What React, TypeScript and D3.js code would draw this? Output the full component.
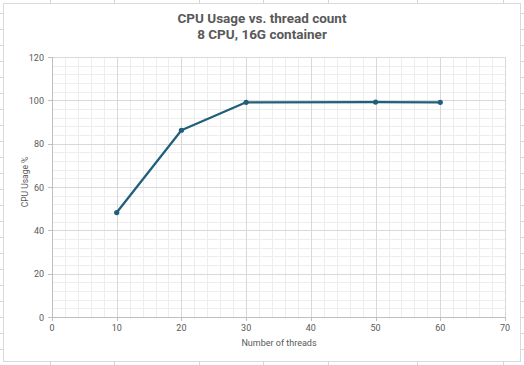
import React from "react";
import * as d3 from "d3";

const threads = [10, 20, 30, 50, 60];
const cpuUsage = [48.2, 86.2, 99.1, 99.2, 99.1];
const xTicks = [0, 10, 20, 30, 40, 50, 60, 70];
const yTicks = [0, 20, 40, 60, 80, 100, 120];
const titleLines = ["CPU Usage vs. thread count", "8 CPU, 16G container"];
const xTitle = "Number of threads";
const yTitle = "CPU Usage %";

const W = 524;
const H = 365;

export default function App() {
  const x = d3.scaleLinear().domain([0, 70]).range([52, 505]);
  const y = d3.scaleLinear().domain([0, 120]).range([317, 57]);
  const xMinor = d3.range(0, 70.001, 2);
  const yMinor = d3.range(0, 120.001, 4);
  const line = d3
    .line<number>()
    .x((_, i) => x(threads[i]))
    .y((d) => y(d));

  const sheetV = [50, 114, 199, 263, 328, 417, 503];
  const sheetH = d3.range(13, 365, 16);
  const font = "Roboto, 'Liberation Sans', sans-serif";

  return (
    <svg
      width={W}
      height={H}
      style={{ position: "absolute", left: 0, top: 0, background: "#fff" }}
    >
      {/* spreadsheet grid behind the chart */}
      {sheetV.map((v) => (
        <line key={"sv" + v} x1={v + 0.5} x2={v + 0.5} y1={0} y2={H} stroke="#d6d6d6" />
      ))}
      {sheetH.map((v) => (
        <line key={"sh" + v} x1={0} x2={W} y1={v + 0.5} y2={v + 0.5} stroke="#d6d6d6" />
      ))}
      {/* chart area */}
      <rect x={3.5} y={3.5} width={517} height={358} fill="#fff" stroke="#d9d9d9" />

      {/* minor gridlines */}
      {xMinor.map((v) => (
        <line key={"xm" + v} x1={Math.round(x(v)) + 0.5} x2={Math.round(x(v)) + 0.5} y1={y(120)} y2={y(0)} stroke="#ededed" />
      ))}
      {yMinor.map((v) => (
        <line key={"ym" + v} x1={x(0)} x2={x(70)} y1={Math.round(y(v)) + 0.5} y2={Math.round(y(v)) + 0.5} stroke="#ededed" />
      ))}
      {/* major gridlines */}
      {xTicks.map((v) => (
        <line key={"xg" + v} x1={Math.round(x(v)) + 0.5} x2={Math.round(x(v)) + 0.5} y1={y(120)} y2={y(0)} stroke="#d9d9d9" />
      ))}
      {yTicks.map((v) => (
        <line key={"yg" + v} x1={x(0)} x2={x(70)} y1={Math.round(y(v)) + 0.5} y2={Math.round(y(v)) + 0.5} stroke="#d9d9d9" />
      ))}

      {/* axes */}
      <line x1={x(0) + 0.5} x2={x(0) + 0.5} y1={y(120)} y2={y(0)} stroke="#bfbfbf" />
      <line x1={x(0)} x2={x(70)} y1={Math.round(y(0)) + 0.5} y2={Math.round(y(0)) + 0.5} stroke="#bfbfbf" />
      {yTicks.map((v) => (
        <line key={"yt" + v} x1={x(0) - 4} x2={x(0)} y1={Math.round(y(v)) + 0.5} y2={Math.round(y(v)) + 0.5} stroke="#bfbfbf" />
      ))}
      {xTicks.map((v) => (
        <line key={"xt" + v} x1={Math.round(x(v)) + 0.5} x2={Math.round(x(v)) + 0.5} y1={y(0)} y2={y(0) + 4} stroke="#bfbfbf" />
      ))}

      {/* tick labels */}
      {yTicks.map((v) => (
        <text key={"yl" + v} x={44} y={y(v) + 3.5} textAnchor="end" fontSize={9} fill="#595959" fontFamily={font}>
          {v}
        </text>
      ))}
      {xTicks.map((v) => (
        <text key={"xl" + v} x={x(v)} y={331} textAnchor="middle" fontSize={9} fill="#595959" fontFamily={font}>
          {v}
        </text>
      ))}

      {/* axis titles */}
      <text x={279} y={346} textAnchor="middle" fontSize={9} fill="#595959" fontFamily={font}>
        {xTitle}
      </text>
      <text
        transform={`translate(28,182) rotate(-90)`}
        textAnchor="middle"
        fontSize={8.5}
        fill="#595959"
        fontFamily={font}
      >
        {yTitle}
      </text>

      {/* title */}
      {titleLines.map((t, i) => (
        <text key={t} x={262} y={23 + i * 16} textAnchor="middle" fontSize={13.5} fontWeight="bold" fill="#595959" fontFamily={font}>
          {t}
        </text>
      ))}

      {/* series */}
      <path d={line(cpuUsage) || ""} fill="none" stroke="#1f5f7c" strokeWidth={2.25} strokeLinejoin="round" />
      {cpuUsage.map((v, i) => (
        <circle key={"p" + i} cx={x(threads[i])} cy={y(v)} r={2.6} fill="#1f5f7c" />
      ))}
    </svg>
  );
}
